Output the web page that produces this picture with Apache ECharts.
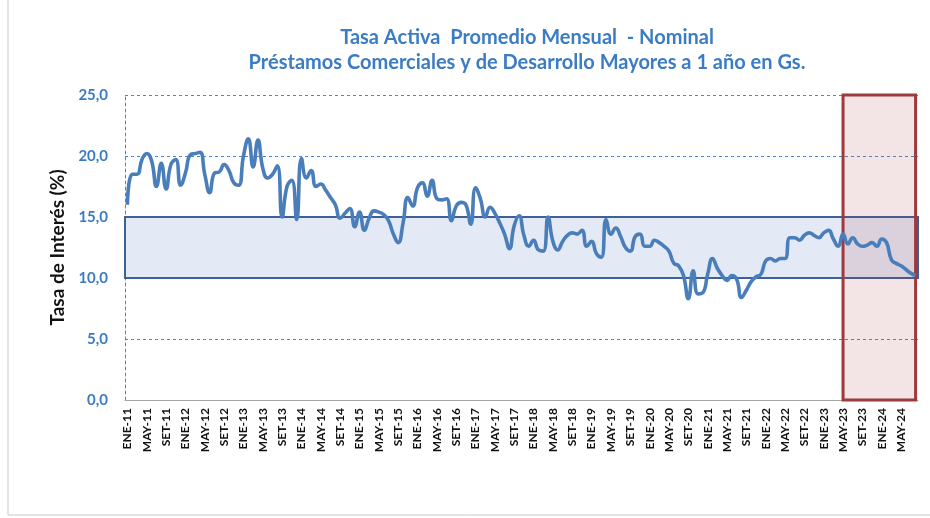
<!DOCTYPE html>
<html><head><meta charset="utf-8">
<script src="https://cdn.jsdelivr.net/npm/echarts@6/dist/echarts.min.js"></script>
<style>html,body{margin:0;padding:0;background:#fff}#c{width:930px;height:518px}</style>
</head><body><div id="c"></div>
<script>
var monthNames = ['ENE','FEB','MAR','ABR','MAY','JUN','JUL','AGO','SET','OCT','NOV','DIC'];
var years = ['11','12','13','14','15','16','17','18','19','20','21','22','23','24'];
var lastMonthIndex2024 = 7; // AGO-24
var categories = [];
years.forEach(function(y, yi){
  monthNames.forEach(function(m, mi){
    if (yi === years.length - 1 && mi > lastMonthIndex2024) return;
    categories.push(m + '-' + y);
  });
});
var rates = [
  16.0,18.5,18.5,19.7,20.2,19.6,17.5,19.4,17.3,19.3,19.7,17.6,
  18.6,20.1,20.2,20.3,18.5,17.0,18.6,18.7,19.3,18.8,17.8,17.6,
  20.0,21.4,19.1,21.3,19.0,18.2,18.5,19.2,15.0,17.5,18.0,14.8,
  19.8,18.2,18.8,17.5,17.7,17.2,16.6,16.0,14.9,15.3,15.7,14.2,
  15.4,13.9,14.9,15.5,15.4,15.2,14.7,13.6,12.9,14.5,16.6,15.9,
  17.4,17.8,16.7,18.0,16.5,16.4,16.5,14.7,15.9,16.2,16.0,14.4,
  17.4,16.5,15.0,15.8,15.3,14.5,13.6,12.4,14.3,15.1,13.5,12.6,
  13.1,12.3,12.2,15.0,13.0,12.3,13.0,13.5,13.7,13.6,13.9,12.6,
  13.0,12.0,11.7,14.8,13.6,14.1,13.4,12.5,12.2,13.4,13.6,12.6,
  12.6,13.1,12.9,12.6,12.2,11.2,11.0,10.2,8.3,10.6,8.7,8.8,
  10.3,11.6,10.8,10.2,9.8,10.2,9.9,8.4,9.0,9.7,10.1,10.3,
  11.4,11.6,11.4,11.6,11.6,13.3,13.3,13.1,13.5,13.7,13.5,13.3,
  13.7,13.9,13.2,12.6,13.6,12.8,13.3,12.8,12.6,12.7,12.9,12.6,
  13.2,12.9,11.5,11.2,11.0,10.7,10.4,10.2
];
var yTicks = {min: 0, max: 25, interval: 5};
var bandRange = [10, 15];
var highlightStart = 'MAY-23';
var highlightEnd = 'AGO-24';

var chart = echarts.init(document.getElementById('c'), null, {renderer: 'canvas'});
chart.setOption({
  animation: false,
  backgroundColor: '#ffffff',
  title: {
    text: 'Tasa Activa  Promedio Mensual  - Nominal\nPréstamos Comerciales y de Desarrollo Mayores a 1 año en Gs.',
    left: 522, top: 20, textAlign: 'center',
    textStyle: {fontFamily: 'Lato', fontWeight: 'bold', fontSize: 20, color: '#3b7cc4', lineHeight: 25}
  },
  graphic: [{type: 'rect', shape: {x: 8, y: -5, width: 940, height: 520}, style: {fill: 'none', stroke: '#c8c8c8', lineWidth: 1}, silent: true}],
  grid: {left: 125, right: 12, top: 95, bottom: 118},
  xAxis: {
    type: 'category', data: categories, boundaryGap: true,
    axisLine: {lineStyle: {color: '#a6a6a6', width: 1}},
    axisTick: {show: false},
    axisLabel: {interval: 3, rotate: 90, fontFamily: 'Lato', fontWeight: 'bold', fontSize: 12, color: '#111', margin: 8}
  },
  yAxis: {
    type: 'value', min: yTicks.min, max: yTicks.max, interval: yTicks.interval,
    name: 'Tasa de Interés (%)', nameLocation: 'middle', nameGap: 56,
    nameTextStyle: {fontFamily: 'Lato', fontWeight: 'bold', fontSize: 19, color: '#111'},
    axisLine: {show: true, lineStyle: {color: '#4a86d0', type: [3, 3], width: 1}},
    axisTick: {show: false},
    splitLine: {lineStyle: {color: '#4a86d0', type: [3, 3], width: 1}},
    axisLabel: {fontFamily: 'Lato', fontWeight: 'bold', fontSize: 15, color: '#3b7cc4', margin: 17,
      formatter: function(v){ return v.toFixed(1).replace('.', ','); }}
  },
  series: [
    {
      type: 'line', data: rates, smooth: 0.5, symbol: 'none', z: 3,
      lineStyle: {color: '#4a7ebb', width: 3.6},
      markArea: {silent: true, itemStyle: {color: 'rgba(220,229,243,0.8)', borderColor: '#3d6196', borderWidth: 2},
        data: [[{yAxis: bandRange[0]}, {yAxis: bandRange[1]}]]}
    },
    {
      type: 'line', data: [], z: 5, symbol: 'none',
      markArea: {silent: true, itemStyle: {color: 'rgba(160,50,60,0.13)', borderColor: '#9e3a3c', borderWidth: 3},
        data: [[{xAxis: highlightStart, yAxis: yTicks.min}, {xAxis: highlightEnd, yAxis: yTicks.max}]]}
    }
  ]
});
</script></body></html>
